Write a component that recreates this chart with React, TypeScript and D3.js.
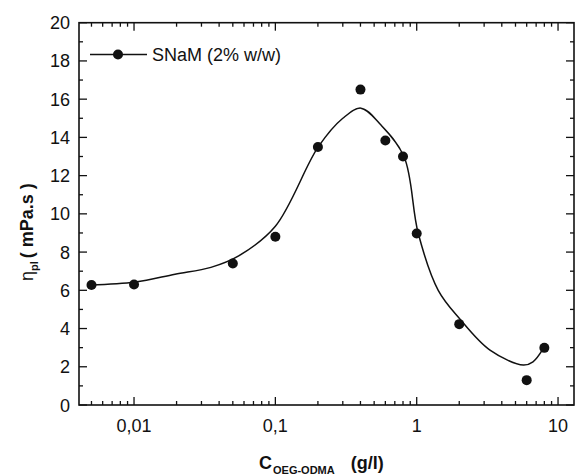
import React, { useEffect, useRef } from "react";
import * as d3 from "d3";

// measured points (C in g/l, eta_pl in mPa.s)
const concX = [0.005, 0.01, 0.05, 0.1, 0.2, 0.4, 0.6, 0.8, 1.0, 2.0, 6.0, 8.0];
const etaY = [6.28, 6.3, 7.4, 8.8, 13.5, 16.5, 13.84, 13.0, 8.97, 4.23, 1.3, 2.99];

// smooth guide curve
const fitX = [0.0049, 0.0102, 0.0195, 0.035, 0.055, 0.1, 0.201, 0.3, 0.403, 0.55, 0.813, 1.026, 1.42, 2.02, 3.3, 5.68, 6.65, 7.87];
const fitY = [6.27, 6.43, 6.84, 7.2, 7.8, 9.35, 13.5, 15.0, 15.53, 14.7, 13.0, 8.97, 6.0, 4.5, 2.87, 2.09, 2.26, 2.96];

const yTicks = [0, 2, 4, 6, 8, 10, 12, 14, 16, 18, 20];
const xTicks = [0.01, 0.1, 1, 10];
const xTickLabels = ["0,01", "0,1", "1", "10"];

export default function App() {
  const ref = useRef<HTMLDivElement>(null);

  useEffect(() => {
    const container = d3.select(ref.current);
    container.selectAll("*").remove();
    const width = 575, height = 475;
    const svg = container.append("svg").attr("width", width).attr("height", height)
      .style("position", "absolute").style("left", 0).style("top", 0)
      .style("font-family", "'Liberation Sans', Arial, sans-serif");

    const left = 79, right = 574, top = 22.7, bottom = 405;
    const x = d3.scaleLog().domain([0.00408, 12.97]).range([left, right]);
    const y = d3.scaleLinear().domain([0, 20]).range([bottom, top]);

    // minor log ticks
    const minor: number[] = [];
    for (let e = -3; e <= 1; e++) {
      for (let m = 1; m <= 9; m++) {
        const v = m * Math.pow(10, e);
        if (v >= 0.00408 && v <= 12.97) minor.push(v);
      }
    }
    const isMajor = (v: number) => xTicks.some((t) => Math.abs(v / t - 1) < 1e-6);

    const g = svg.append("g").attr("stroke", "#111").attr("stroke-width", 1.3);
    // frame
    g.append("rect").attr("x", left).attr("y", top).attr("width", right - left).attr("height", bottom - top)
      .attr("fill", "none").attr("stroke-width", 1.6);

    minor.forEach((v) => {
      const len = isMajor(v) ? 8 : 4;
      g.append("line").attr("x1", x(v)).attr("x2", x(v)).attr("y1", bottom).attr("y2", bottom - len);
      g.append("line").attr("x1", x(v)).attr("x2", x(v)).attr("y1", top).attr("y2", top + len);
    });
    d3.range(0, 21, 1).forEach((v) => {
      const len = v % 2 === 0 ? 8 : 4;
      g.append("line").attr("x1", left).attr("x2", left + len).attr("y1", y(v)).attr("y2", y(v));
      g.append("line").attr("x1", right).attr("x2", right - len).attr("y1", y(v)).attr("y2", y(v));
    });

    // tick labels
    svg.selectAll(".yl").data(yTicks).join("text")
      .attr("x", left - 9).attr("y", (d) => y(d) + 6.5)
      .attr("text-anchor", "end").attr("font-size", 18).attr("fill", "#111")
      .text((d) => d);
    svg.selectAll(".xl").data(xTicks).join("text")
      .attr("x", (d) => x(d)).attr("y", 432)
      .attr("text-anchor", "middle").attr("font-size", 18).attr("fill", "#111")
      .text((d, i) => xTickLabels[i]);

    // fitted curve
    const line = d3.line<number>()
      .x((d, i) => x(fitX[i])).y((d) => y(d))
      .curve(d3.curveCatmullRom.alpha(0.5));
    svg.append("path").attr("d", line(fitY)).attr("fill", "none")
      .attr("stroke", "#111").attr("stroke-width", 1.5);

    // points
    svg.selectAll(".pt").data(etaY).join("circle")
      .attr("cx", (d, i) => x(concX[i])).attr("cy", (d) => y(d))
      .attr("r", 5).attr("fill", "#111");

    // legend
    const ly = 54.5;
    svg.append("line").attr("x1", 90).attr("x2", 147).attr("y1", ly).attr("y2", ly)
      .attr("stroke", "#111").attr("stroke-width", 1.3);
    svg.append("circle").attr("cx", 118).attr("cy", ly).attr("r", 5).attr("fill", "#111");
    svg.append("text").attr("x", 152).attr("y", ly + 6.5).attr("font-size", 18).attr("fill", "#111")
      .text("SNaM (2% w/w)");

    // x title
    const xt = svg.append("text").attr("x", 259).attr("y", 469).attr("font-weight", "bold")
      .attr("fill", "#111").attr("font-size", 18);
    xt.append("tspan").text("C");
    xt.append("tspan").attr("font-size", 11).attr("dy", 5).attr("dx", 1).text("OEG-ODMA");
    xt.append("tspan").attr("dy", -5).attr("dx", 16).text("(g/l)");

    // y title
    const yt = svg.append("text").attr("transform", "translate(33,281) rotate(-90)")
      .attr("fill", "#111").attr("font-size", 18);
    yt.append("tspan").text("η");
    yt.append("tspan").attr("font-size", 11).attr("dy", 5).attr("font-weight", "bold").text("pl");
    yt.append("tspan").attr("dy", -5).attr("dx", 3).attr("font-weight", "bold").text("( mPa.s )");
  }, []);

  return <div ref={ref} style={{ width: 575, height: 475 }}></div>;
}
